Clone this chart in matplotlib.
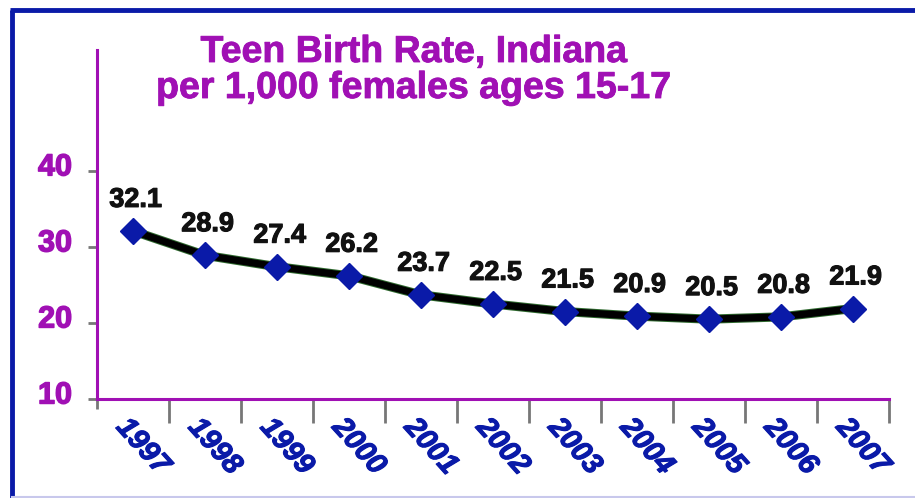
import matplotlib
matplotlib.use("Agg")
import matplotlib.pyplot as plt
import matplotlib.patheffects as pe
from matplotlib.lines import Line2D

years = ["1997", "1998", "1999", "2000", "2001", "2002", "2003", "2004", "2005", "2006", "2007"]
rates = [32.1, 28.9, 27.4, 26.2, 23.7, 22.5, 21.5, 20.9, 20.5, 20.8, 21.9]
yticks = [10, 20, 30, 40]
title = "Teen Birth Rate, Indiana\nper 1,000 females ages 15-17"

PURPLE = "#A010B4"
BLUE = "#0A1AA8"
FONT = "Liberation Sans"

def heavy(color, w=1.0):
    return [pe.withStroke(linewidth=w, foreground=color)]

fig = plt.figure(figsize=(9.15, 4.98), dpi=100)
fig.patch.set_facecolor("white")

ax = fig.add_axes([97/915, 1-399/498, (889-97)/915, (399-50)/498])
x = list(range(len(years)))
ax.plot(x, rates, color="black", lw=5.2, solid_capstyle="round", solid_joinstyle="round",
        path_effects=[pe.Stroke(linewidth=6.6, foreground="#2f6a2f"), pe.Normal()], zorder=2)
ax.plot(x, rates, ls="none", marker="D", ms=13, color=BLUE, mec=BLUE, zorder=3)

for xi, v in zip(x, rates):
    ax.annotate(f"{v}", (xi, v), xytext=(2, 13), textcoords="offset points",
                ha="center", va="bottom", fontsize=19.5, fontweight="bold",
                family=FONT, color="#111111", path_effects=heavy("#111111", 0.8))

ax.set_xlim(-0.5, len(years) - 0.5)
ax.set_ylim(10, 55.9)
ax.set_yticks(yticks)
ax.set_yticklabels([])
ax.tick_params(axis="y", length=6.5, width=2, color="#777777")
for t in yticks:
    ax.annotate(str(t), (0, t), xycoords=("axes fraction", "data"), xytext=(-18, 2.5),
                textcoords="offset points", ha="right", va="center", fontsize=22,
                fontweight="bold", family=FONT, color=PURPLE, annotation_clip=False,
                path_effects=heavy(PURPLE, 1.0))

ax.set_xticks([i + 0.5 for i in range(len(years))])
ax.set_xticks([-0.5], minor=True)
ax.set_xticklabels([])
ax.tick_params(axis="x", which="major", length=17, width=2, color="#777777")
ax.tick_params(axis="x", which="minor", length=7, width=2, color="#777777")

for xi, yr in zip(x, years):
    ax.annotate(yr, (xi, 10), xytext=(-1, -10), textcoords="offset points",
                rotation=-48, rotation_mode="anchor", ha="left", va="top",
                fontsize=21, fontweight="bold", fontstyle="italic",
                family=FONT, color=BLUE, annotation_clip=False,
                path_effects=heavy(BLUE, 0.8))

for s in ["top", "right"]:
    ax.spines[s].set_visible(False)
for s in ["left", "bottom"]:
    ax.spines[s].set_color(PURPLE)
    ax.spines[s].set_linewidth(2.2)
ax.set_facecolor("white")

fig.text(0.452, 1 - 34/498, title, ha="center", va="top", fontsize=27, fontweight="bold",
         family=FONT, color=PURPLE, linespacing=1.0, path_effects=heavy(PURPLE, 0.6))

# frame
fig.add_artist(Line2D([12/915, 12/915], [0, 1-10/498], transform=fig.transFigure,
                      color=BLUE, lw=3.5, solid_capstyle="butt"))
fig.add_artist(Line2D([10/915, 1], [1-10/498, 1-10/498], transform=fig.transFigure,
                      color=BLUE, lw=3.5, solid_capstyle="butt"))
fig.add_artist(Line2D([12/915, 1], [1-497/498, 1-497/498], transform=fig.transFigure,
                      color="#c8c8ec", lw=1.5))

fig.savefig("out.png", dpi=100, facecolor="white")
